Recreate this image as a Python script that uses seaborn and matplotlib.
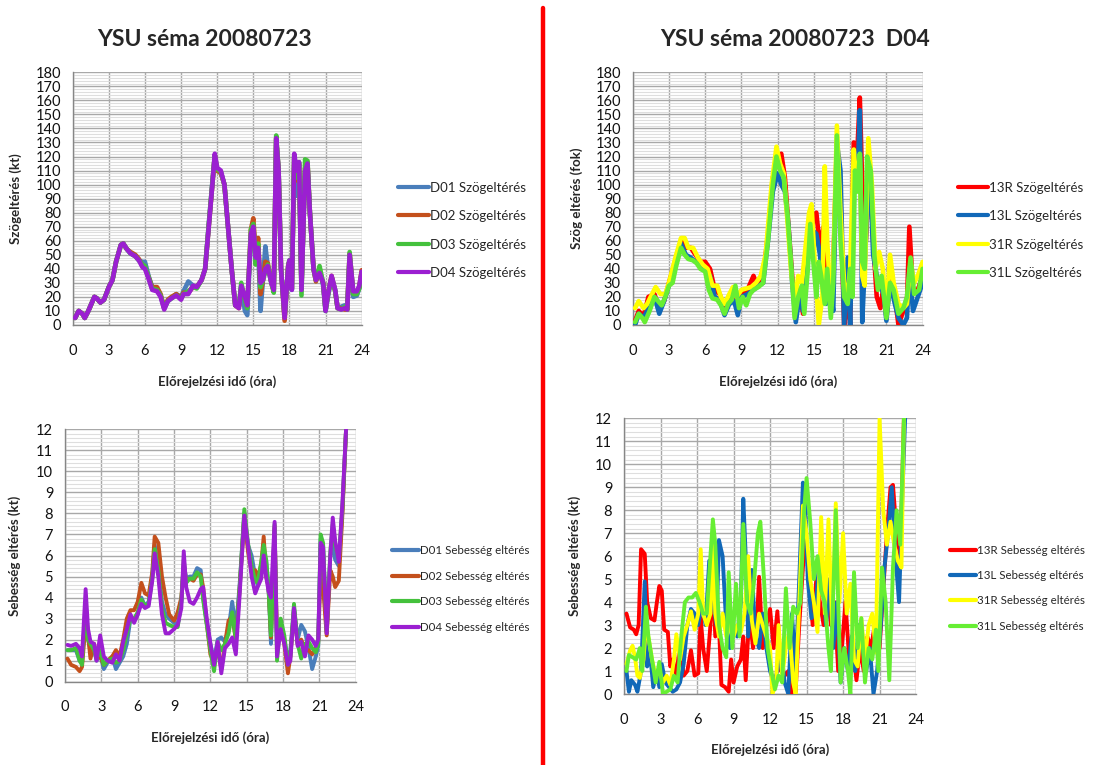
import numpy as np
import pandas as pd
import matplotlib
matplotlib.use("Agg")
import matplotlib.pyplot as plt
from matplotlib.ticker import MultipleLocator
from matplotlib.lines import Line2D
import seaborn as sns

# ---------------- data ----------------
# Upper left: angle deviation per domain (shared time axis, hours)
TL_TIME = [0.2, 0.5, 0.8, 1.0, 1.3, 1.8, 2.0, 2.3, 2.6, 3.0, 3.3, 3.6, 4.0, 4.2, 4.5,
           4.8, 5.2, 5.5, 5.8, 6.0, 6.3, 6.6, 7.0, 7.3, 7.6, 7.9, 8.2, 8.6, 9.0, 9.2,
           9.6, 10.0, 10.3, 10.7, 11.0, 11.3, 11.6, 11.8, 12.0, 12.3, 12.6, 12.9, 13.2, 13.5, 13.8,
           14.0, 14.3, 14.5, 14.8, 15.0, 15.2, 15.4, 15.6, 15.8, 16.0, 16.2, 16.5, 16.7, 16.9, 17.1,
           17.3, 17.6, 17.9, 18.0, 18.2, 18.4, 18.6, 18.8, 19.0, 19.3, 19.5, 19.7, 20.0, 20.2, 20.5,
           20.8, 21.0, 21.2, 21.5, 21.8, 22.0, 22.3, 22.6, 22.8, 23.0, 23.3, 23.6, 23.8, 24.0]
D01_ANGLE = [5, 10, 8, 5, 10, 20, 19, 16, 18, 27, 32, 45, 57, 58, 54,
             51, 49, 46, 45, 45, 35, 27, 26, 21, 12, 17, 19, 22, 20, 24,
             31, 28, 27, 32, 40, 72, 102, 120, 110, 109, 100, 70, 40, 14, 13,
             28, 10, 7, 63, 70, 46, 55, 10, 32, 56, 42, 30, 25, 132, 110,
             40, 6, 42, 46, 25, 120, 92, 114, 27, 108, 113, 80, 40, 32, 39,
             28, 10, 20, 34, 25, 12, 13, 14, 11, 48, 20, 21, 26, 37]
D02_ANGLE = [5, 10, 8, 5, 10, 20, 19, 16, 18, 27, 32, 45, 57, 58, 54,
             52, 50, 47, 42, 41, 34, 27, 27, 22, 12, 18, 20, 22, 19, 23,
             23, 27, 27, 32, 40, 70, 100, 121, 110, 108, 100, 70, 40, 14, 12,
             27, 19, 13, 68, 76, 50, 62, 22, 32, 45, 44, 30, 24, 133, 110,
             40, 3, 43, 45, 26, 121, 103, 115, 26, 112, 116, 80, 40, 31, 38,
             30, 11, 22, 35, 24, 12, 12, 11, 11, 51, 23, 23, 27, 39]
D03_ANGLE = [5, 10, 8, 5, 10, 20, 19, 16, 18, 27, 32, 45, 57, 58, 54,
             51, 49, 46, 43, 42, 34, 26, 25, 21, 12, 17, 19, 21, 19, 22,
             24, 27, 26, 32, 40, 71, 101, 121, 111, 109, 100, 70, 40, 14, 13,
             30, 18, 12, 68, 72, 43, 58, 27, 32, 38, 43, 30, 23, 135, 110,
             40, 6, 42, 46, 26, 121, 105, 116, 21, 118, 117, 80, 40, 32, 42,
             30, 10, 22, 34, 24, 12, 11, 13, 11, 52, 22, 22, 26, 37]
D04_ANGLE = [5, 10, 8, 5, 10, 20, 19, 16, 18, 27, 32, 45, 57, 58, 54,
             51, 49, 46, 41, 40, 33, 25, 24, 20, 11, 17, 19, 21, 18, 22,
             22, 28, 27, 32, 40, 70, 100, 122, 112, 110, 100, 70, 40, 14, 12,
             28, 20, 14, 65, 70, 48, 55, 30, 32, 40, 42, 30, 25, 133, 110,
             40, 5, 42, 46, 25, 122, 110, 116, 25, 110, 115, 80, 40, 32, 37,
             30, 10, 22, 35, 25, 12, 11, 12, 11, 50, 24, 24, 28, 38]

# Upper right: angle deviation per runway (D04)
RWY13_TIME = [0.2, 0.5, 0.9, 1.3, 1.8, 2.2, 2.6, 3.0, 3.6, 4.0, 4.4, 4.8, 5.2, 5.6, 6.0,
              6.4, 6.8, 7.2, 7.6, 8.0, 8.4, 8.7, 9.0, 9.5, 10.0, 10.3, 10.8, 11.2, 11.6, 12.0,
              12.3, 12.6, 12.9, 13.2, 13.5, 13.8, 14.1, 14.5, 14.8, 15.2, 15.5, 15.8, 16.0, 16.3, 16.6,
              16.9, 17.2, 17.5, 17.8, 18.0, 18.3, 18.6, 18.8, 19.0, 19.3, 19.6, 19.9, 20.2, 20.5, 20.8,
              21.0, 21.3, 21.7, 22.0, 22.4, 22.7, 22.9, 23.2, 23.6, 24.0]
R13_ANGLE = [3, 10, 6, 20, 22, 12, 17, 30, 48, 60, 55, 55, 50, 45, 45,
             40, 25, 22, 10, 17, 20, 10, 22, 25, 35, 28, 35, 65, 105, 118,
             122, 105, 70, 35, 5, 25, 8, 55, 70, 80, 55, 70, 35, 15, 40,
             130, 90, 0, 20, 0, 130, 125, 162, 100, 60, 115, 60, 20, 12, 30,
             5, 35, 20, 0, 10, 15, 70, 25, 25, 35]
L13_ANGLE = [0, 8, 5, 12, 20, 8, 17, 28, 45, 58, 50, 48, 45, 42, 40,
             35, 20, 18, 7, 15, 17, 7, 20, 22, 25, 27, 30, 60, 95, 108,
             100, 95, 70, 30, 2, 20, 10, 55, 68, 65, 50, 20, 15, 30, 10,
             130, 110, 0, 48, 0, 110, 100, 153, 2, 60, 120, 50, 35, 30, 20,
             3, 30, 15, 5, 0, 5, 40, 10, 20, 30]
R31_TIME = [0.2, 0.5, 0.9, 1.2, 1.6, 1.9, 2.3, 2.7, 3.0, 3.6, 4.0, 4.3, 4.6, 5.0, 5.4,
            5.8, 6.2, 6.6, 7.0, 7.3, 7.6, 8.0, 8.3, 8.6, 9.0, 9.4, 9.8, 10.2, 10.6, 11.0,
            11.5, 11.9, 12.2, 12.5, 12.8, 13.1, 13.4, 13.7, 14.0, 14.3, 14.6, 14.8, 15.1, 15.4, 15.7,
            15.9, 16.1, 16.4, 16.6, 16.9, 17.2, 17.5, 17.8, 18.0, 18.3, 18.5, 18.8, 19.0, 19.2, 19.5,
            19.8, 20.1, 20.4, 20.7, 21.0, 21.3, 21.6, 22.0, 22.4, 22.7, 23.0, 23.3, 23.6, 24.0]
R31_ANGLE = [12, 17, 12, 15, 22, 27, 22, 22, 30, 50, 62, 62, 55, 55, 48,
             43, 40, 28, 28, 20, 15, 22, 27, 20, 25, 26, 27, 30, 35, 50,
             100, 127, 115, 108, 75, 40, 15, 35, 30, 55, 80, 86, 40, 0, 20,
             113, 60, 15, 40, 142, 80, 30, 20, 40, 125, 100, 120, 35, 28, 133,
             100, 40, 52, 40, 8, 50, 30, 15, 12, 15, 45, 30, 35, 45]
L31_TIME = [0.2, 0.5, 0.8, 1.0, 1.4, 1.8, 2.1, 2.4, 2.7, 3.0, 3.3, 3.6, 4.0, 4.3, 4.6,
            5.0, 5.3, 5.6, 6.0, 6.3, 6.6, 7.0, 7.3, 7.6, 7.9, 8.2, 8.5, 8.8, 9.1, 9.4,
            9.7, 10.0, 10.4, 10.8, 11.2, 11.6, 11.9, 12.2, 12.5, 12.8, 13.1, 13.4, 13.7, 14.0, 14.2,
            14.5, 14.7, 15.0, 15.2, 15.4, 15.6, 15.9, 16.1, 16.4, 16.6, 16.9, 17.2, 17.5, 17.8, 18.0,
            18.2, 18.4, 18.6, 18.8, 19.0, 19.2, 19.4, 19.7, 20.0, 20.3, 20.6, 21.0, 21.3, 21.6, 22.0,
            22.4, 22.7, 23.0, 23.3, 23.7, 24.0]
L31_ANGLE = [2, 8, 5, 2, 10, 20, 17, 14, 20, 28, 30, 42, 55, 50, 47,
             46, 44, 40, 38, 25, 19, 18, 14, 8, 15, 18, 28, 12, 20, 14,
             22, 25, 27, 30, 60, 100, 120, 110, 105, 80, 45, 5, 20, 28, 8,
             40, 72, 40, 20, 45, 35, 15, 40, 5, 30, 135, 60, 20, 15, 40,
             20, 110, 95, 122, 45, 40, 120, 110, 50, 25, 35, 5, 30, 25, 8,
             12, 20, 48, 22, 25, 40]

# Lower left: speed deviation per domain (shared time axis, hours)
BL_TIME = [0.2, 0.5, 0.9, 1.2, 1.4, 1.7, 1.9, 2.1, 2.4, 2.6, 2.9, 3.2, 3.5, 3.9, 4.2,
           4.5, 4.8, 5.1, 5.4, 5.7, 6.0, 6.3, 6.6, 6.9, 7.2, 7.4, 7.7, 8.0, 8.3, 8.6,
           9.0, 9.3, 9.6, 9.8, 10.0, 10.3, 10.6, 10.9, 11.2, 11.4, 11.7, 12.0, 12.3, 12.6, 12.9,
           13.2, 13.5, 13.8, 14.1, 14.4, 14.8, 15.1, 15.4, 15.7, 15.9, 16.2, 16.4, 16.6, 16.8, 17.0,
           17.3, 17.5, 17.8, 18.1, 18.4, 18.6, 18.9, 19.2, 19.5, 19.8, 20.1, 20.4, 20.7, 20.9, 21.1,
           21.3, 21.6, 21.9, 22.1, 22.3, 22.6, 22.9, 23.2]
D01_SPEED = [1.5, 1.5, 1.5, 1.0, 0.9, 3.5, 2.0, 1.5, 1.5, 1.0, 1.3, 0.6, 0.9, 1.2, 0.6,
             0.9, 1.2, 1.8, 3.0, 2.9, 3.2, 4.0, 3.6, 3.8, 5.0, 6.5, 5.5, 3.8, 3.2, 3.0,
             2.8, 2.7, 3.8, 5.6, 4.9, 5.0, 5.0, 5.4, 5.3, 4.0, 2.8, 1.8, 1.0, 2.0, 2.1,
             1.9, 2.5, 3.8, 2.5, 4.5, 8.0, 6.5, 6.0, 5.0, 4.6, 5.5, 6.0, 5.8, 4.5, 1.8,
             7.3, 1.5, 2.8, 2.0, 1.0, 1.5, 3.5, 2.0, 2.7, 2.4, 1.6, 0.6, 1.2, 1.7, 6.8,
             6.5, 2.3, 6.0, 6.5, 5.8, 5.5, 8.2, 12.0]
D02_SPEED = [1.1, 0.8, 0.7, 0.5, 0.7, 2.8, 2.2, 1.1, 1.8, 1.2, 1.2, 0.8, 1.0, 1.2, 1.5,
             1.2, 2.0, 3.0, 3.4, 3.4, 3.8, 4.7, 4.2, 4.1, 5.2, 6.9, 6.6, 5.0, 4.0, 3.2,
             2.9, 3.3, 4.0, 5.5, 4.8, 4.9, 4.8, 5.1, 5.1, 4.5, 2.8, 1.3, 0.9, 1.6, 0.6,
             1.8, 2.9, 3.1, 2.0, 4.3, 7.9, 6.2, 5.2, 5.3, 4.9, 5.6, 6.9, 5.0, 4.5, 2.1,
             7.4, 1.8, 2.6, 1.8, 0.4, 1.2, 3.4, 1.8, 2.0, 1.5, 1.5, 1.3, 1.6, 1.9, 5.3,
             4.5, 2.2, 5.3, 5.0, 4.5, 4.8, 8.0, 12.0]
D03_SPEED = [1.5, 1.5, 1.6, 1.0, 0.8, 3.8, 2.0, 1.8, 1.5, 1.1, 1.5, 0.8, 1.0, 1.1, 0.9,
             1.0, 1.5, 2.3, 3.0, 3.0, 3.3, 3.9, 3.6, 3.7, 4.9, 6.3, 5.3, 3.5, 2.8, 2.7,
             2.6, 2.6, 3.8, 5.8, 4.7, 4.9, 4.9, 5.2, 5.0, 3.9, 2.7, 1.5, 0.5, 1.9, 1.5,
             1.8, 2.3, 3.3, 2.0, 4.3, 8.2, 6.6, 5.5, 4.8, 4.7, 5.7, 6.5, 5.8, 4.4, 2.2,
             7.5, 1.0, 3.0, 2.2, 0.8, 1.2, 3.7, 1.8, 1.1, 1.8, 1.9, 1.6, 1.4, 1.8, 7.0,
             6.6, 2.4, 6.2, 7.5, 6.5, 5.8, 8.3, 12.0]
D04_SPEED = [1.75, 1.7, 1.8, 1.6, 1.2, 4.4, 2.5, 1.9, 1.8, 1.0, 2.2, 1.2, 1.0, 0.9, 1.3,
             1.0, 1.9, 2.5, 3.2, 2.8, 3.2, 3.7, 3.5, 3.6, 4.8, 6.1, 5.0, 3.2, 2.3, 2.3,
             2.5, 2.7, 3.5, 6.2, 4.5, 3.8, 3.7, 4.0, 4.4, 4.5, 3.0, 1.8, 0.8, 1.9, 0.4,
             1.6, 1.8, 2.1, 1.3, 4.0, 7.9, 6.5, 5.0, 4.2, 4.5, 4.9, 6.0, 5.0, 4.3, 4.0,
             7.6, 1.2, 2.5, 1.8, 0.8, 1.0, 3.5, 1.7, 1.9, 1.2, 2.2, 2.0, 1.7, 2.0, 6.6,
             6.4, 2.3, 6.0, 7.8, 6.7, 5.7, 8.5, 12.0]

# Lower right: speed deviation per runway (D04)
R13_SPEED_TIME = [0.2, 0.5, 0.8, 1.0, 1.2, 1.4, 1.7, 1.9, 2.2, 2.5, 2.7, 2.9, 3.1, 3.3, 3.6,
                  3.8, 4.0, 4.3, 4.6, 4.9, 5.2, 5.5, 5.8, 6.1, 6.3, 6.5, 6.8, 7.1, 7.3, 7.5,
                  7.8, 8.0, 8.3, 8.6, 8.8, 9.0, 9.3, 9.6, 9.8, 10.0, 10.3, 10.6, 10.9, 11.1, 11.4,
                  11.7, 12.0, 12.3, 12.6, 12.9, 13.2, 13.5, 13.8, 14.1, 14.4, 14.7, 14.9, 15.2, 15.5, 15.8,
                  16.1, 16.4, 16.7, 17.0, 17.3, 17.6, 17.9, 18.2, 18.5, 18.9, 19.1, 19.4, 19.7, 20.0, 20.3,
                  20.6, 21.0, 21.3, 21.6, 21.9, 22.1, 22.4, 22.7, 23.0]
R13_SPEED = [3.5, 2.9, 2.8, 2.6, 3.0, 6.3, 6.1, 4.0, 3.3, 3.2, 4.0, 4.7, 4.5, 2.8, 2.7,
             1.2, 1.5, 0.8, 2.2, 0.8, 1.0, 1.9, 0.8, 0.9, 3.3, 2.0, 1.0, 3.0, 5.0, 2.5,
             3.0, 0.4, 0.3, 0.1, 1.5, 0.5, 1.2, 1.5, 2.5, 0.6, 3.5, 2.0, 3.0, 5.1, 2.0,
             3.0, 3.7, 2.0, 3.6, 1.0, 0.8, 1.0, 0.0, 0.1, 3.0, 5.5, 7.0, 5.0, 3.0, 5.0,
             4.0, 3.0, 5.0, 3.0, 4.0, 1.0, 2.0, 4.0, 1.5, 1.5, 0.6, 2.0, 1.0, 2.5, 2.0,
             3.0, 2.0, 4.5, 7.0, 9.0, 9.1, 7.0, 6.0, 12.0]
L13_SPEED_TIME = [0.2, 0.4, 0.6, 0.9, 1.1, 1.4, 1.7, 1.9, 2.1, 2.4, 2.7, 2.9, 3.1, 3.4, 3.7,
                  4.0, 4.3, 4.6, 4.9, 5.2, 5.5, 5.8, 6.1, 6.4, 6.7, 7.0, 7.3, 7.6, 7.8, 8.1,
                  8.4, 8.7, 9.0, 9.3, 9.6, 9.8, 10.0, 10.2, 10.5, 10.8, 11.1, 11.4, 11.7, 12.0, 12.3,
                  12.6, 12.9, 13.2, 13.5, 13.8, 14.1, 14.4, 14.7, 14.9, 15.1, 15.4, 15.7, 16.0, 16.3, 16.6,
                  16.9, 17.2, 17.5, 17.8, 18.1, 18.4, 18.7, 19.0, 19.3, 19.6, 19.9, 20.2, 20.5, 20.8, 21.1,
                  21.4, 21.7, 22.0, 22.3, 22.6, 22.9, 23.1]
L13_SPEED = [1.0, 0.1, 0.6, 0.4, 0.1, 1.0, 4.9, 1.2, 2.0, 0.3, 1.0, 0.3, 1.3, 0.5, 0.3,
             0.1, 0.2, 0.5, 1.3, 3.0, 3.7, 3.5, 3.0, 4.0, 3.0, 5.8, 4.0, 3.0, 6.7, 6.0,
             3.0, 2.0, 3.0, 2.5, 4.0, 8.5, 6.0, 2.5, 5.4, 2.5, 2.0, 3.5, 2.0, 1.0, 0.5,
             1.0, 2.0, 0.5, 0.0, 3.5, 1.0, 5.0, 9.2, 8.0, 5.0, 3.3, 3.5, 5.5, 5.0, 3.0,
             5.0, 2.0, 4.0, 0.5, 2.0, 1.0, 2.5, 1.0, 3.0, 2.0, 1.0, 2.0, 0.0, 1.0, 3.0,
             5.5, 7.0, 9.0, 6.0, 4.0, 9.0, 12.0]
R31_SPEED_TIME = [0.2, 0.5, 0.7, 0.9, 1.1, 1.3, 1.6, 1.8, 2.0, 2.3, 2.6, 2.9, 3.2, 3.5, 3.8,
                  4.1, 4.3, 4.6, 4.9, 5.2, 5.5, 5.8, 6.1, 6.3, 6.5, 6.8, 7.1, 7.3, 7.5, 7.8,
                  8.1, 8.4, 8.7, 9.0, 9.3, 9.6, 9.9, 10.2, 10.5, 10.8, 11.1, 11.4, 11.7, 12.0, 12.2,
                  12.5, 12.7, 13.0, 13.3, 13.6, 13.9, 14.1, 14.4, 14.7, 15.0, 15.3, 15.6, 15.9, 16.2, 16.5,
                  16.8, 17.1, 17.4, 17.7, 18.0, 18.3, 18.6, 18.9, 19.2, 19.5, 19.8, 20.1, 20.4, 20.7, 21.0,
                  21.3, 21.6, 21.9, 22.2, 22.5, 22.8, 23.0]
R31_SPEED = [1.3, 1.9, 2.1, 1.6, 0.8, 0.7, 1.5, 3.0, 2.5, 1.5, 0.8, 1.0, 0.5, 0.8, 0.4,
             1.5, 2.6, 1.5, 2.5, 3.0, 3.6, 2.8, 3.5, 6.3, 3.5, 3.0, 3.5, 6.5, 3.5, 2.5,
             3.5, 2.5, 3.0, 2.5, 3.0, 2.7, 3.5, 6.0, 3.2, 2.2, 3.5, 3.0, 2.5, 2.0, 0.0,
             0.5, 3.0, 0.8, 2.0, 2.8, 0.5, 0.0, 4.0, 8.2, 7.0, 5.0, 4.0, 2.7, 7.7, 3.5,
             7.6, 3.0, 8.3, 4.0, 7.0, 3.5, 4.8, 1.5, 1.2, 3.3, 1.5, 3.0, 3.5, 1.8, 12.0,
             8.0, 6.5, 7.5, 6.5, 5.8, 5.5, 12.0]
L31_SPEED_TIME = [0.2, 0.4, 0.7, 1.0, 1.3, 1.5, 1.8, 2.0, 2.3, 2.6, 2.9, 3.2, 3.5, 3.8, 4.1,
                  4.4, 4.7, 5.0, 5.3, 5.6, 5.9, 6.2, 6.5, 6.8, 7.1, 7.3, 7.5, 7.8, 8.1, 8.4,
                  8.6, 8.9, 9.2, 9.5, 9.8, 10.1, 10.4, 10.7, 11.0, 11.2, 11.5, 11.8, 12.1, 12.4, 12.7,
                  13.0, 13.3, 13.6, 13.9, 14.2, 14.5, 14.8, 15.0, 15.3, 15.6, 15.9, 16.2, 16.5, 16.8, 17.0,
                  17.4, 17.6, 17.8, 18.1, 18.4, 18.6, 18.9, 19.2, 19.5, 19.8, 20.1, 20.4, 20.7, 20.9, 21.2,
                  21.5, 21.8, 22.1, 22.4, 22.7, 23.0]
L31_SPEED = [1.0, 1.7, 1.6, 1.5, 2.0, 1.0, 3.8, 2.5, 1.5, 0.5, 1.4, 0.0, 0.1, 0.2, 0.8,
             0.5, 2.5, 4.0, 4.2, 4.2, 4.4, 4.0, 3.5, 3.5, 6.0, 7.6, 6.5, 3.0, 2.0, 1.6,
             5.3, 2.0, 4.8, 2.5, 7.4, 4.0, 3.5, 5.0, 7.0, 7.5, 5.0, 2.0, 1.0, 0.2, 0.8,
             0.5, 4.6, 2.0, 3.8, 3.5, 4.0, 8.0, 9.4, 7.5, 5.0, 6.0, 4.5, 4.0, 2.0, 1.0,
             8.0, 4.0, 0.5, 2.0, 1.0, 0.0, 5.3, 2.0, 3.3, 0.5, 2.0, 1.5, 2.8, 1.0, 5.5,
             4.0, 0.6, 5.5, 8.0, 6.5, 12.0]

DOMAIN_COLORS = ["#4a7ebb", "#c4501c", "#44c13c", "#9b1fd1"]
RUNWAY_COLORS = ["#ff0000", "#1168b8", "#ffff00", "#66ee33"]

TITLE_LEFT = "YSU séma 20080723"
TITLE_RIGHT = "YSU séma 20080723  D04"
XLABEL = "Előrejelzési idő (óra)"

# ---------------- style ----------------
sns.set_style("white")
plt.rcParams["font.family"] = ["Lato", "DejaVu Sans"]

fig = plt.figure(figsize=(10.95, 7.65), dpi=100)
fig.patch.set_facecolor("white")

GRID_MAJOR = "#a8a8a8"
GRID_MINOR = "#dedede"
AXIS_GRAY = "#868686"


def long_frame(series):
    rows = []
    for name, (t, v) in series.items():
        rows.append(pd.DataFrame({"Idő": t, "Érték": v, "Sorozat": name}))
    return pd.concat(rows, ignore_index=True)


def draw_panel(rect, series, colors, ylim, ymajor, yminor, ylabel, lw,
               xlabel_y, ylabel_x, legend_pos, legend_fs):
    ax = fig.add_axes(rect)
    names = list(series.keys())
    df = long_frame(series)
    sns.lineplot(data=df, x="Idő", y="Érték", hue="Sorozat", hue_order=names,
                 palette=colors, estimator=None, sort=False, linewidth=lw,
                 legend=False, ax=ax)
    for ln in ax.lines:
        ln.set_solid_joinstyle("round")
        ln.set_solid_capstyle("round")
        ln.set_zorder(3)

    ax.set_xlim(0, 24)
    ax.set_ylim(*ylim)
    ax.set_xticks(np.arange(0, 25, 3))
    ax.yaxis.set_major_locator(MultipleLocator(ymajor))
    ax.yaxis.set_minor_locator(MultipleLocator(yminor))
    ax.set_axisbelow(True)
    ax.grid(which="major", axis="both", color=GRID_MAJOR, linewidth=1.0)
    ax.grid(which="minor", axis="y", color=GRID_MINOR, linewidth=0.8)

    for s in ("top", "right"):
        ax.spines[s].set_visible(False)
    for s in ("left", "bottom"):
        ax.spines[s].set_color(AXIS_GRAY)
        ax.spines[s].set_linewidth(1.0)
    ax.tick_params(axis="both", which="major", direction="out", length=3.5,
                   width=1.0, color=AXIS_GRAY, labelsize=10.5, labelcolor="#111111")
    ax.tick_params(axis="x", which="major", pad=10)
    ax.tick_params(axis="y", which="major", pad=5)
    ax.tick_params(which="minor", length=0)

    ax.set_xlabel(XLABEL, fontsize=9.5, fontweight="bold")
    ax.xaxis.set_label_coords(0.5, xlabel_y)
    ax.xaxis.label.set_verticalalignment("center")
    ax.set_ylabel(ylabel, fontsize=9.5, fontweight="bold")
    ax.yaxis.set_label_coords(ylabel_x, 0.5)
    ax.yaxis.label.set_verticalalignment("center")

    handles = [Line2D([0], [0], color=c, linewidth=3) for c in colors]
    ax.legend(handles, names, loc="center left", bbox_to_anchor=legend_pos,
              bbox_transform=fig.transFigure, frameon=False, fontsize=legend_fs,
              handlelength=2.3, handletextpad=0.1, labelspacing=1.25,
              borderpad=0.3)
    return ax


draw_panel([0.0664, 0.5752, 0.2639, 0.3303],
           {"D01 Szögeltérés": (TL_TIME, D01_ANGLE),
            "D02 Szögeltérés": (TL_TIME, D02_ANGLE),
            "D03 Szögeltérés": (TL_TIME, D03_ANGLE),
            "D04 Szögeltérés": (TL_TIME, D04_ANGLE)},
           DOMAIN_COLORS, (0, 180), 10, 2, "Szögeltérés (kt)", 3.3,
           -0.2256, -0.196, (0.354, 0.699), 9.5)

draw_panel([0.5778, 0.5752, 0.2648, 0.3303],
           {"13R Szögeltérés": (RWY13_TIME, R13_ANGLE),
            "13L Szögeltérés": (RWY13_TIME, L13_ANGLE),
            "31R Szögeltérés": (R31_TIME, R31_ANGLE),
            "31L Szögeltérés": (L31_TIME, L31_ANGLE)},
           RUNWAY_COLORS, (0, 180), 10, 2, "Szög eltérés (fok)", 3.3,
           -0.2256, -0.192, (0.865, 0.699), 9.5)

draw_panel([0.0594, 0.1089, 0.2655, 0.3299],
           {"D01 Sebesség eltérés": (BL_TIME, D01_SPEED),
            "D02 Sebesség eltérés": (BL_TIME, D02_SPEED),
            "D03 Sebesség eltérés": (BL_TIME, D03_SPEED),
            "D04 Sebesség eltérés": (BL_TIME, D04_SPEED)},
           DOMAIN_COLORS, (0, 12), 1, 0.2, "Sebesség eltérés (kt)", 2.8,
           -0.223, -0.172, (0.350, 0.230), 8.3)

draw_panel([0.5699, 0.0928, 0.2667, 0.3604],
           {"13R Sebesség eltérés": (R13_SPEED_TIME, R13_SPEED),
            "13L Sebesség eltérés": (L13_SPEED_TIME, L13_SPEED),
            "31R Sebesség eltérés": (R31_SPEED_TIME, R31_SPEED),
            "31L Sebesség eltérés": (L31_SPEED_TIME, L31_SPEED)},
           RUNWAY_COLORS, (0, 12), 1, 0.2, "Sebesség eltérés (kt)", 2.8,
           -0.203, -0.168, (0.859, 0.231), 8.3)

# panel titles
fig.text(0.1872, 1 - 40 / 765, TITLE_LEFT, ha="center", va="center",
         fontsize=16.5, fontweight="bold")
fig.text(0.7260, 1 - 40 / 765, TITLE_RIGHT, ha="center", va="center",
         fontsize=16.5, fontweight="bold")

# red divider between the two halves
fig.add_artist(Line2D([543 / 1095, 543 / 1095], [0, 1 - 8 / 765],
                      transform=fig.transFigure, color="#ff0000", linewidth=3.2))

fig.savefig("out.png", dpi=100, facecolor="white")
